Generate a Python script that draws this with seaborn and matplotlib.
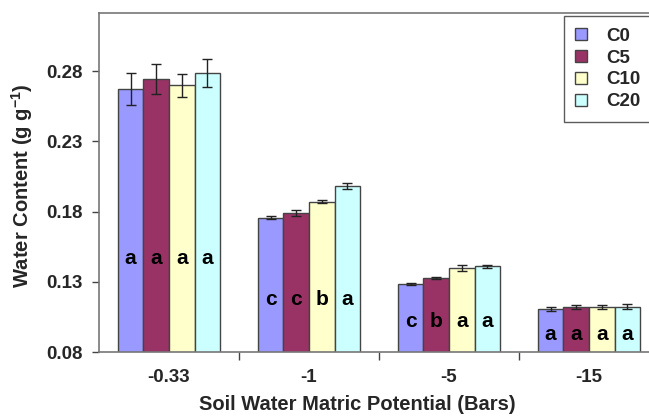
import numpy as np
import pandas as pd
import matplotlib
matplotlib.use("Agg")
import matplotlib.pyplot as plt
import seaborn as sns
from matplotlib.ticker import FixedLocator, FormatStrFormatter

# ---- data ----
potentials = ["-0.33", "-1", "-5", "-15"]
treatments = ["C0", "C5", "C10", "C20"]
c0 = [0.267, 0.1756, 0.1284, 0.1106]
c5 = [0.274, 0.1791, 0.1327, 0.1120]
c10 = [0.2698, 0.1870, 0.1396, 0.1120]
c20 = [0.2784, 0.1980, 0.1410, 0.1122]
err_c0 = [0.0113, 0.0010, 0.0006, 0.0012]
err_c5 = [0.0107, 0.0020, 0.0006, 0.0016]
err_c10 = [0.0080, 0.0010, 0.0021, 0.0013]
err_c20 = [0.0100, 0.0023, 0.0012, 0.0017]
letters_c0 = ["a", "c", "c", "a"]
letters_c5 = ["a", "c", "b", "a"]
letters_c10 = ["a", "b", "a", "a"]
letters_c20 = ["a", "a", "a", "a"]
letter_heights = [0.1462, 0.1177, 0.1016, 0.0928]
yticks = [0.08, 0.13, 0.18, 0.23, 0.28]

colors = ["#9999FF", "#993366", "#FFFFCC", "#CCFFFF"]

values = [c0, c5, c10, c20]
errs = [err_c0, err_c5, err_c10, err_c20]
letters = [letters_c0, letters_c5, letters_c10, letters_c20]

rows = []
for t, vals in zip(treatments, values):
    for p, v in zip(potentials, vals):
        rows.append({"Potential": p, "Treatment": t, "Value": v})
df = pd.DataFrame(rows)

sns.set_style("white")
plt.rcParams["font.family"] = ["Liberation Sans", "DejaVu Sans"]
plt.rcParams["font.weight"] = "bold"
plt.rcParams["mathtext.fontset"] = "custom"
plt.rcParams["mathtext.rm"] = "Liberation Sans:bold"
plt.rcParams["mathtext.bf"] = "Liberation Sans:bold"
plt.rcParams["mathtext.default"] = "bf"

fig = plt.figure(figsize=(6.49, 4.19), dpi=100)
ax = fig.add_axes([99 / 649, 1 - 352 / 419, 560 / 649, (352 - 13) / 419])

sns.barplot(data=df, x="Potential", y="Value", hue="Treatment",
            order=potentials, hue_order=treatments, palette=colors,
            saturation=1, width=0.73, edgecolor="#444444", linewidth=1.0,
            errorbar=None, ax=ax, legend=True)

for cont, e, labs in zip(ax.containers, errs, letters):
    xs = [b.get_x() + b.get_width() / 2 for b in cont]
    hs = [b.get_height() for b in cont]
    ax.errorbar(xs, hs, yerr=e, fmt="none", ecolor="#222222",
                elinewidth=1.0, capsize=3.5, capthick=1.0, zorder=5)
    for x, lab, ly in zip(xs, labs, letter_heights):
        ax.text(x, ly, lab, ha="center", va="center", fontsize=15,
                fontweight="bold", color="black", zorder=6)

ax.set_ylim(0.08, 0.3213)
ax.set_xlim(-0.5, 3.5)
ax.yaxis.set_major_locator(FixedLocator(yticks))
ax.yaxis.set_major_formatter(FormatStrFormatter("%.2f"))
ax.set_xticks(range(len(potentials)))
ax.set_xticklabels(potentials)
ax.xaxis.set_minor_locator(FixedLocator([0.5, 1.5, 2.5]))
ax.tick_params(axis="x", which="major", length=0, pad=12, labelsize=13.5)
ax.tick_params(axis="x", which="minor", length=6, width=1.0,
               color="#444444", direction="out", bottom=True)
ax.tick_params(axis="y", which="major", length=5, width=1.0,
               color="#444444", direction="out", left=True, labelsize=13.5,
               pad=7)
for lab in ax.get_xticklabels() + ax.get_yticklabels():
    lab.set_fontweight("bold")

for s in ["left", "bottom", "top", "right"]:
    ax.spines[s].set_color("#777777")
    ax.spines[s].set_linewidth(1.2)

ax.set_xlabel("Soil Water Matric Potential (Bars)", fontsize=14.5,
              fontweight="bold")
ax.xaxis.set_label_coords(0.462, -0.128)
ax.set_ylabel("Water Content (g g$^{-1}$)", fontsize=14.5,
              fontweight="bold")
ax.yaxis.set_label_coords(-0.115, 0.49)

leg = ax.legend(loc="upper left", bbox_to_anchor=((564 - 99) / 560, (352 - 16.5) / 339),
                frameon=True, fancybox=False, edgecolor="#333333",
                fontsize=13.5, handlelength=0.65, handleheight=0.65,
                handletextpad=1.0, labelspacing=0.26, borderpad=0.6,
                borderaxespad=0)
leg.get_frame().set_linewidth(1.0)
for t in leg.get_texts():
    t.set_fontweight("bold")
for h in leg.legend_handles:
    h.set_edgecolor("#444444")

fig.savefig("out.png", dpi=100)
